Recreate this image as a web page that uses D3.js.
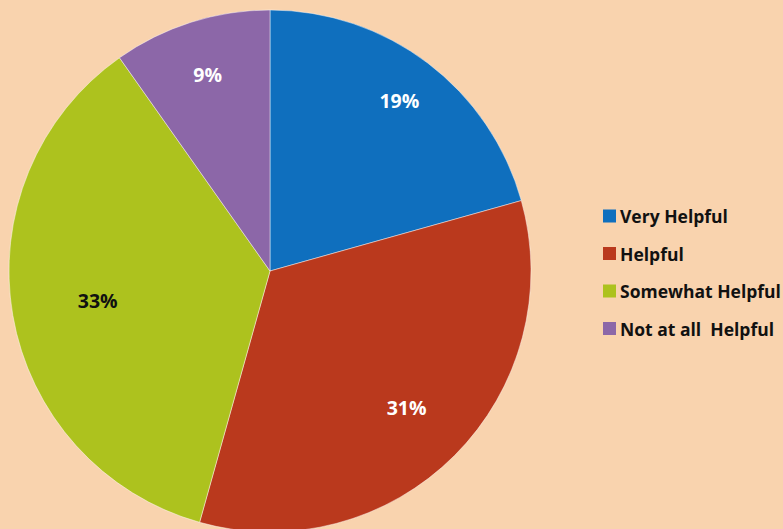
<!DOCTYPE html>
<html>
<head>
<meta charset="utf-8">
<script src="https://cdn.jsdelivr.net/npm/d3@7"></script>
<style>
  html, body { margin: 0; padding: 0; background: #F9D3AE; }
  #chart { width: 783px; height: 529px; overflow: hidden; }
</style>
</head>
<body>
<div id="chart"></div>
<script>
// --- DATA ---
const categories = ["Very Helpful", "Helpful", "Somewhat Helpful", "Not at all  Helpful"];
const values = [19, 31, 33, 9];
const colors = ["#0F6FBE", "#BA391D", "#ADC21E", "#8C67A8"];
const labelColors = ["#fff", "#fff", "#111", "#fff"];

// --- LAYOUT ---
const WIDTH = 783, HEIGHT = 529;
const CX = 270, CY = 271, R = 261;
const LABEL_R = [0.82, 0.74, 0.67, 0.79]; // fraction of radius for each label

const svg = d3.select("#chart").append("svg")
  .attr("width", WIDTH).attr("height", HEIGHT)
  .style("font-family", "'Open Sans', sans-serif");

svg.append("rect").attr("width", WIDTH).attr("height", HEIGHT).attr("fill", "#F9D3AE");

const pie = d3.pie().sort(null).value(d => d);
const arcs = pie(values);
const arc = d3.arc().innerRadius(0).outerRadius(R);

const g = svg.append("g").attr("transform", `translate(${CX},${CY})`);

g.selectAll("path")
  .data(arcs)
  .join("path")
  .attr("d", arc)
  .attr("fill", (d, i) => colors[i])
  .attr("stroke", "rgba(255,255,255,0.45)")
  .attr("stroke-width", 1);

g.selectAll("text.lbl")
  .data(arcs)
  .join("text")
  .attr("class", "lbl")
  .attr("transform", (d, i) => {
    const a = (d.startAngle + d.endAngle) / 2;
    const rr = R * LABEL_R[i];
    return `translate(${Math.sin(a) * rr},${-Math.cos(a) * rr})`;
  })
  .attr("text-anchor", "middle")
  .attr("dominant-baseline", "central")
  .style("font-size", "19.5px")
  .style("font-weight", "700")
  .style("fill", (d, i) => labelColors[i])
  .text(d => d.data + "%");

// --- LEGEND ---
const legend = svg.append("g").attr("transform", "translate(603,216)");
const rows = legend.selectAll("g")
  .data(categories)
  .join("g")
  .attr("transform", (d, i) => `translate(0,${i * 37.5})`);

rows.append("rect")
  .attr("x", 0).attr("y", -6.5)
  .attr("width", 13).attr("height", 13)
  .attr("fill", (d, i) => colors[i]);

rows.append("text")
  .attr("x", 17)
  .attr("dominant-baseline", "central")
  .style("font-size", "17.5px")
  .style("font-weight", "700")
  .style("fill", "#111")
  .style("white-space", "pre")
  .attr("xml:space", "preserve")
  .text(d => d);
</script>
</body>
</html>
